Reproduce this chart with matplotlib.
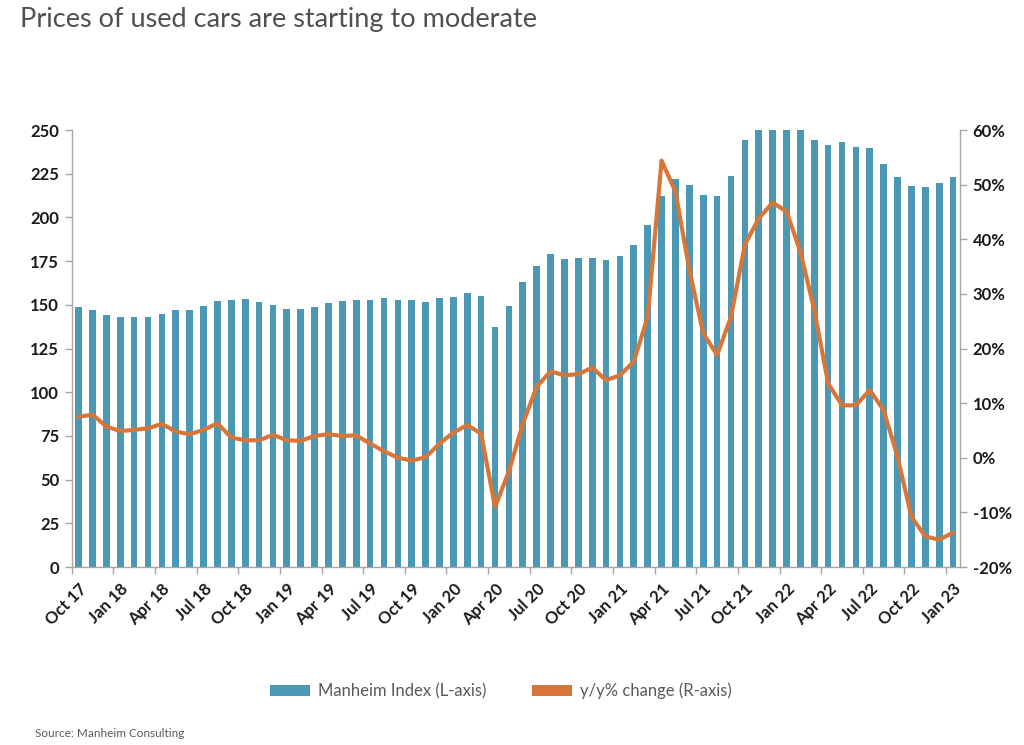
import matplotlib
matplotlib.use("Agg")
import matplotlib.pyplot as plt
import numpy as np

# ---- data ----
month_labels = ["Oct 17", "Jan 18", "Apr 18", "Jul 18", "Oct 18", "Jan 19", "Apr 19", "Jul 19",
                "Oct 19", "Jan 20", "Apr 20", "Jul 20", "Oct 20", "Jan 21", "Apr 21", "Jul 21",
                "Oct 21", "Jan 22", "Apr 22", "Jul 22", "Oct 22", "Jan 23"]

manheim_index = [148.5, 146.8, 143.9, 142.9, 142.9, 142.9, 144.8, 146.8, 147.1, 149.4,
                 152.3, 152.7, 153.6, 151.7, 150.0, 147.5, 147.5, 148.5, 150.8, 152.3,
                 153.0, 153.0, 154.0, 152.7, 153.0, 151.7, 154.0, 154.6, 156.5, 155.2,
                 137.4, 149.4, 163.0, 172.3, 178.8, 176.1, 176.5, 176.9, 175.6, 178.1,
                 184.5, 195.8, 212.0, 221.8, 218.5, 213.0, 212.4, 223.9, 244.3, 250.0,
                 250.0, 250.0, 250.0, 244.3, 241.6, 243.3, 240.3, 239.5, 230.3, 223.3,
                 218.1, 217.6, 219.7, 222.9]

yoy_change = [7.5, 7.9, 5.7, 4.9, 5.1, 5.4, 6.2, 4.8, 4.3, 5.1,
              6.3, 3.7, 3.2, 3.2, 4.2, 3.2, 3.1, 4.0, 4.3, 4.0,
              4.1, 2.6, 1.2, 0.0, -0.5, 0.1, 2.6, 4.6, 6.0, 4.4,
              -9.0, -2.5, 6.2, 13.0, 15.8, 15.1, 15.3, 16.5, 14.2, 15.1,
              17.6, 25.8, 54.4, 48.7, 34.4, 22.8, 18.8, 25.8, 39.0, 43.8,
              46.7, 45.1, 37.7, 27.1, 13.6, 9.6, 9.6, 12.4, 8.7, 0.2,
              -10.8, -14.4, -15.0, -13.7]

left_ticks = [0, 25, 50, 75, 100, 125, 150, 175, 200, 225, 250]
right_ticks = [-20, -10, 0, 10, 20, 30, 40, 50, 60]

BLUE = "#4A98B4"
ORANGE = "#D8763A"
AXIS = "#A6A6A6"
TXT = "#1A1A1A"
GREY = "#595959"

plt.rcParams["font.family"] = ["Lato", "DejaVu Sans"]

fig = plt.figure(figsize=(10.24, 7.45), dpi=100)
ax = fig.add_axes([0.070, 0.2389, 0.8675, 0.5866])
ax2 = ax.twinx()

x = np.arange(len(manheim_index))
ax.bar(x, manheim_index, width=0.48, color=BLUE, zorder=2, label="Manheim Index (L-axis)")
ax2.plot(x, yoy_change, color=ORANGE, lw=3.0, solid_joinstyle="round",
         solid_capstyle="round", zorder=3, label="y/y% change (R-axis)")

ax.set_xlim(-0.5, len(x) - 0.5)
ax.set_ylim(0, 250)
ax2.set_ylim(-20, 60)

ax.set_yticks(left_ticks)
ax.set_yticklabels([str(v) for v in left_ticks])
ax2.set_yticks(right_ticks)
ax2.set_yticklabels([f"{v}%" for v in right_ticks])

label_pos = np.arange(0, len(x), 3)
ax.set_xticks(label_pos)
ax.set_xticklabels(month_labels, rotation=45, ha="right", rotation_mode="anchor")
ax.set_xticks(label_pos - 0.5, minor=True)
ax.tick_params(axis="x", which="major", length=0, pad=10, labelsize=12, labelcolor=TXT)
ax.tick_params(axis="x", which="minor", length=5, width=1, color=AXIS, direction="out")

ax.tick_params(axis="y", length=5, width=1, color=AXIS, pad=4, labelsize=12, labelcolor=TXT)
ax2.tick_params(axis="y", length=5, width=1, color=AXIS, pad=4, labelsize=12, labelcolor=TXT)

for lab in ax.get_xticklabels() + ax.get_yticklabels() + ax2.get_yticklabels():
    lab.set_fontweight("bold")

for a in (ax, ax2):
    a.spines["top"].set_visible(False)
    for s in ("left", "right", "bottom"):
        a.spines[s].set_color(AXIS)
        a.spines[s].set_linewidth(1)
ax.spines["right"].set_visible(False)
ax2.spines["left"].set_visible(False)
ax2.spines["bottom"].set_visible(False)

from matplotlib.patches import Patch
handles = [Patch(facecolor=BLUE, edgecolor="none"), Patch(facecolor=ORANGE, edgecolor="none")]
fig.legend(handles, ["Manheim Index (L-axis)", "y/y% change (R-axis)"], loc="center",
           bbox_to_anchor=(0.489, 0.0725), ncol=2, frameon=False, fontsize=12,
           handlelength=2.4, handleheight=0.65, handletextpad=0.5, columnspacing=2.7,
           labelcolor=GREY)

fig.text(0.0195, 0.99, "Prices of used cars are starting to moderate", fontsize=19.5,
         fontweight="normal", color="#505050", ha="left", va="top")
fig.text(0.034, 0.016, "Source: Manheim Consulting", fontsize=8.5, color=GREY,
         ha="left", va="center")

fig.savefig("out.png", dpi=100)
